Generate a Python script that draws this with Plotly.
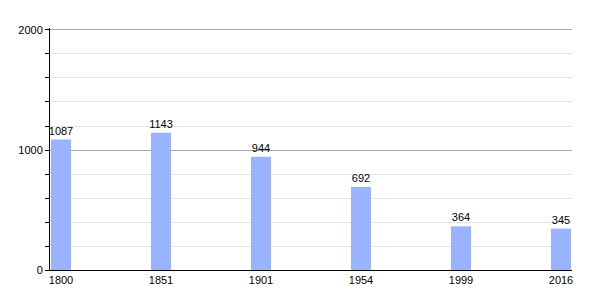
import plotly.graph_objects as go

years = ["1800", "1851", "1901", "1954", "1999", "2016"]
population = [1087, 1143, 944, 692, 364, 345]
y_ticks = [0, 1000, 2000]

fig = go.Figure(
    go.Bar(
        x=years,
        y=population,
        width=0.2,
        marker=dict(color="#99b3ff", line=dict(width=0)),
        text=[str(v) for v in population],
        textposition="outside",
        constraintext="none",
        textfont=dict(family="Liberation Sans, Arial", size=11, color="black"),
        cliponaxis=False,
    )
)

fig.update_layout(
    width=600,
    height=300,
    margin=dict(l=50, r=28, t=28, b=30),
    paper_bgcolor="white",
    plot_bgcolor="white",
    showlegend=False,
    font=dict(family="Liberation Sans, Arial", size=11, color="black"),
)

fig.update_xaxes(
    type="category",
    range=[-0.11, 5.11],
    showgrid=False,
    showline=True,
    linecolor="black",
    linewidth=1,
    ticks="",
    tickfont=dict(size=11, color="black"),
)

fig.update_yaxes(
    range=[0, 2016.6],
    tickvals=y_ticks,
    ticktext=[str(v) for v in y_ticks],
    showgrid=True,
    gridcolor="#a8a8a8",
    gridwidth=1,
    showline=True,
    linecolor="black",
    linewidth=1,
    ticks="outside",
    ticklen=4,
    tickcolor="black",
    zeroline=False,
    minor=dict(dtick=200, showgrid=True, gridcolor="#e3e3e3", gridwidth=1,
               ticks="outside", ticklen=4, tickcolor="black"),
    tickfont=dict(size=11, color="black"),
)

fig.write_html("out.html")
